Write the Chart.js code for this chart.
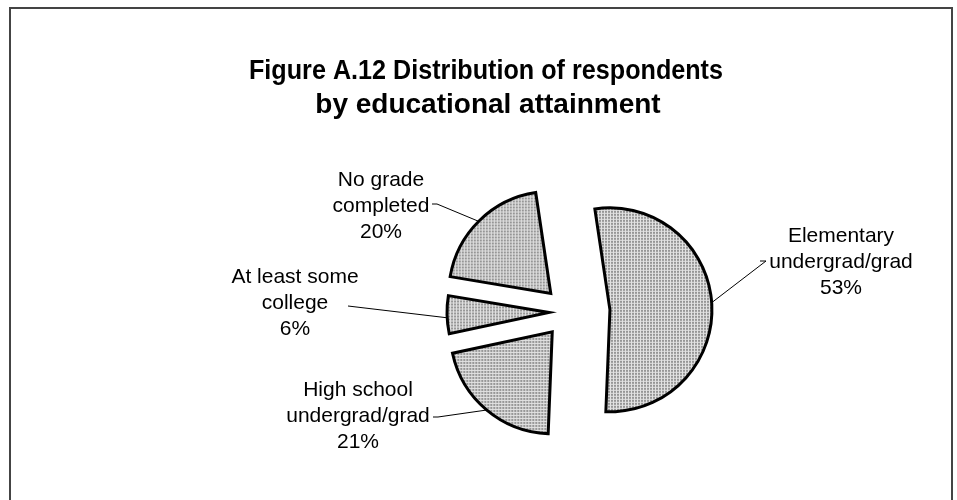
<!DOCTYPE html>
<html>
<head>
    <title>Figure A.12</title>
    <script src="https://cdn.jsdelivr.net/npm/chart.js@4"></script>
    <style>
        body {
            margin: 0;
            background: #fff;
        }
        .frame {
            position: absolute;
            left: 9px;
            top: 7px;
            width: 940px;
            height: 600px;
            border: 2px solid #444;
        }
        #pieChart {
            position: absolute;
            left: 0;
            top: 0;
        }
    </style>
</head>
<body>
    <div class="frame"></div>
    <canvas id="pieChart" width="957" height="500"></canvas>

    <script>
    // chart data
    const categories = ['Elementary undergrad/grad', 'High school undergrad/grad', 'At least some college', 'No grade completed'];
    const labelLines = [['Elementary', 'undergrad/grad'], ['High school', 'undergrad/grad'], ['At least some', 'college'], ['No grade', 'completed']];
    const shares = [53, 21, 6, 20];
    const titleLines = ['Figure A.12 Distribution of respondents', 'by educational attainment'];

    const RADIUS = 102;

    // grey dotted fill like the old excel pattern
    function makePattern() {
        const c = document.createElement('canvas');
        c.width = 3;
        c.height = 3;
        const g = c.getContext('2d');
        g.fillStyle = '#e2e2e2';
        g.fillRect(0, 0, 3, 3);
        g.fillStyle = '#969696';
        g.fillRect(0, 0, 2, 2);
        return g.createPattern(c, 'repeat');
    }

    // chart.js makes big exploded slices larger and a bit narrower,
    // undo that so every slice keeps the same radius and its real angle
    const keepRadius = {
        id: 'keepRadius',
        afterDatasetUpdate(chart, args) {
            args.meta.data.forEach(arc => {
                const t = (arc.options.offset || 0) / 4;
                const fix = 1 - Math.sin(Math.min(Math.PI, arc.circumference));
                const grow = t * fix;
                const narrow = grow / (2 * Math.PI * RADIUS);
                arc.outerRadius = RADIUS - grow;
                arc.startAngle -= narrow;
                arc.endAngle += narrow;
            });
        }
    };

    // title, slice labels and leader lines
    const sliceLabels = {
        id: 'sliceLabels',
        afterDatasetsDraw(chart, args, opts) {
            const ctx = chart.ctx;
            const meta = chart.getDatasetMeta(0);
            ctx.save();
            ctx.fillStyle = '#000';
            ctx.textAlign = 'center';
            ctx.textBaseline = 'middle';

            ctx.font = 'bold 28px "Liberation Sans", Arial, sans-serif';
            ctx.fillText(titleLines[0], opts.titleX, opts.titleY, 474);
            ctx.fillText(titleLines[1], opts.titleX + 2, opts.titleY + 34);

            ctx.font = '21px "Liberation Sans", Arial, sans-serif';
            meta.data.forEach((arc, i) => {
                const p = opts.labels[i];
                const lines = labelLines[i].concat([shares[i] + '%']);
                lines.forEach((line, j) => ctx.fillText(line, p.x, p.y + j * 26));

                // leader line from label to arc edge
                const half = (arc.startAngle + arc.endAngle) / 2;
                const t = (arc.options.offset || 0) / 4;
                const cx = arc.x + Math.cos(half) * t;
                const cy = arc.y + Math.sin(half) * t;
                const a = (p.edge - 90) * Math.PI / 180;
                const ex = cx + Math.cos(a) * RADIUS;
                const ey = cy + Math.sin(a) * RADIUS;
                ctx.beginPath();
                ctx.lineWidth = 1;
                ctx.strokeStyle = '#000';
                ctx.moveTo(p.lx, p.ly);
                ctx.lineTo(p.lx + p.stub, p.ly);
                ctx.lineTo(ex, ey);
                ctx.stroke();
            });
            ctx.restore();
        }
    };

    const ctx = document.getElementById('pieChart').getContext('2d');
    const pattern = makePattern();

    new Chart(ctx, {
        type: 'pie',
        data: {
            labels: categories,
            datasets: [{
                data: shares,
                backgroundColor: pattern,
                borderColor: '#000',
                borderWidth: 3,
                borderJoinStyle: 'miter',
                offset: [164, 104, 80, 104],
                radius: RADIUS
            }]
        },
        options: {
            responsive: false,
            devicePixelRatio: 1,
            animation: false,
            events: [],
            rotation: -8.5,
            layout: {
                padding: { left: 181, right: 0, top: 124, bottom: 0 }
            },
            plugins: {
                legend: { display: false },
                tooltip: { enabled: false },
                sliceLabels: {
                    titleX: 486,
                    titleY: 71,
                    labels: [
                        { x: 841, y: 236, lx: 760, ly: 261, stub: 6, edge: 86 },
                        { x: 358, y: 390, lx: 433, ly: 417, stub: 5, edge: 220 },
                        { x: 295, y: 277, lx: 348, ly: 306, stub: 0, edge: 267 },
                        { x: 381, y: 180, lx: 432, ly: 204, stub: 5, edge: 315 }
                    ]
                }
            }
        },
        plugins: [keepRadius, sliceLabels]
    });
    </script>
</body>
</html>
